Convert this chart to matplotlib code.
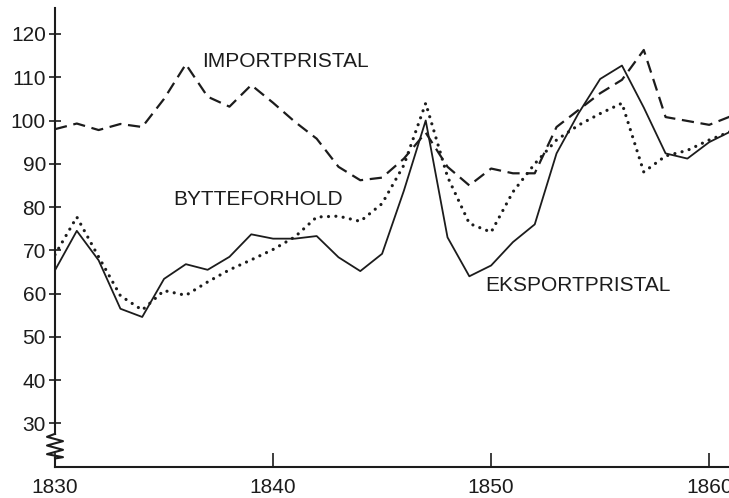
import matplotlib
matplotlib.use("Agg")
import matplotlib.pyplot as plt

plt.rcParams['font.family'] = ['Liberation Sans', 'DejaVu Sans']

ink = "#1c1c1c"

# annual values
years = list(range(1830, 1862))
importpris = [98.0, 99.3, 97.8, 99.2, 98.5, 105.0, 113.0, 105.5, 103.2, 108.2,
              104.1, 99.7, 95.8, 89.3, 86.2, 86.8, 91.2, 97.2, 89.3, 85.0,
              88.9, 87.8, 87.8, 98.5, 102.4, 106.3, 109.4, 116.3, 100.8, 99.9,
              99.0, 101.0]
eksportpris = [65.4, 74.5, 67.7, 56.5, 54.6, 63.4, 66.8, 65.5, 68.5, 73.7,
               72.7, 72.7, 73.3, 68.4, 65.2, 69.2, 83.8, 100.0, 73.0, 64.0,
               66.5, 71.9, 76.0, 92.4, 101.6, 109.6, 112.7, 103.0, 92.4, 91.2,
               95.0, 97.5]
bytteforhold = [69.0, 77.7, 68.5, 59.5, 56.2, 60.7, 59.6, 62.7, 65.5, 67.8,
                70.2, 73.1, 77.7, 77.9, 76.7, 80.8, 89.7, 104.0, 87.0, 76.2,
                74.2, 83.5, 90.0, 95.5, 98.9, 101.6, 104.0, 88.1, 91.8, 93.1,
                95.5, 97.5]

y_ticks = [30, 40, 50, 60, 70, 80, 90, 100, 110, 120]
x_ticks = [1830, 1840, 1850, 1860]

fig = plt.figure(figsize=(7.29, 4.98), dpi=100)
ax = fig.add_axes([55/729, 31.3/498, 676/729, 458.7/498])

ax.plot(years, importpris, color=ink, lw=1.6, ls=(0, (5.5, 3.0)))
ax.plot(years, eksportpris, color=ink, lw=1.3)
ax.plot(years, bytteforhold, color=ink, lw=2.3, ls=(0, (0.01, 2.3)),
        dash_capstyle='round')

ax.set_xlim(1830, 1861)
ax.set_ylim(20, 126)

ax.text(1836.73, 113.6, "IMPORTPRISTAL", fontsize=15, color=ink, va='center')
ax.text(1835.41, 81.7, "BYTTEFORHOLD", fontsize=15, color=ink, va='center')
ax.text(1849.72, 61.8, "EKSPORTPRISTAL", fontsize=15, color=ink, va='center')

for s in ['top', 'right', 'left']:
    ax.spines[s].set_visible(False)
ax.spines['bottom'].set_linewidth(1.5)
ax.spines['bottom'].set_color(ink)

# y axis line with the break symbol near the bottom
px = 1 / 21.8
ax.plot([1830, 1830], [126, 27.6], color=ink, lw=1.5, clip_on=False)
zz_x = [1830, 1830 - 8*px, 1830 + 8*px, 1830 - 8*px, 1830 + 8*px,
        1830 - 8*px, 1830 + 8*px, 1830]
zz_y = [27.6, 26.9, 25.9, 24.9, 23.9, 22.9, 22.2, 21.9]
ax.plot(zz_x, zz_y, color=ink, lw=1.5, clip_on=False)
ax.plot([1830, 1830], [21.9, 20], color=ink, lw=1.5, clip_on=False)

ax.set_yticks(y_ticks)
ax.set_yticklabels([str(v) for v in y_ticks])
ax.tick_params(axis='y', direction='inout', length=9, width=1.2, colors=ink,
               labelsize=15, pad=2)
ax.set_xticks(x_ticks)
ax.set_xticklabels([str(v) for v in x_ticks])
ax.tick_params(axis='x', direction='in', length=10, width=1.2, colors=ink,
               labelsize=15, pad=8)

fig.savefig("out.png", dpi=100)
